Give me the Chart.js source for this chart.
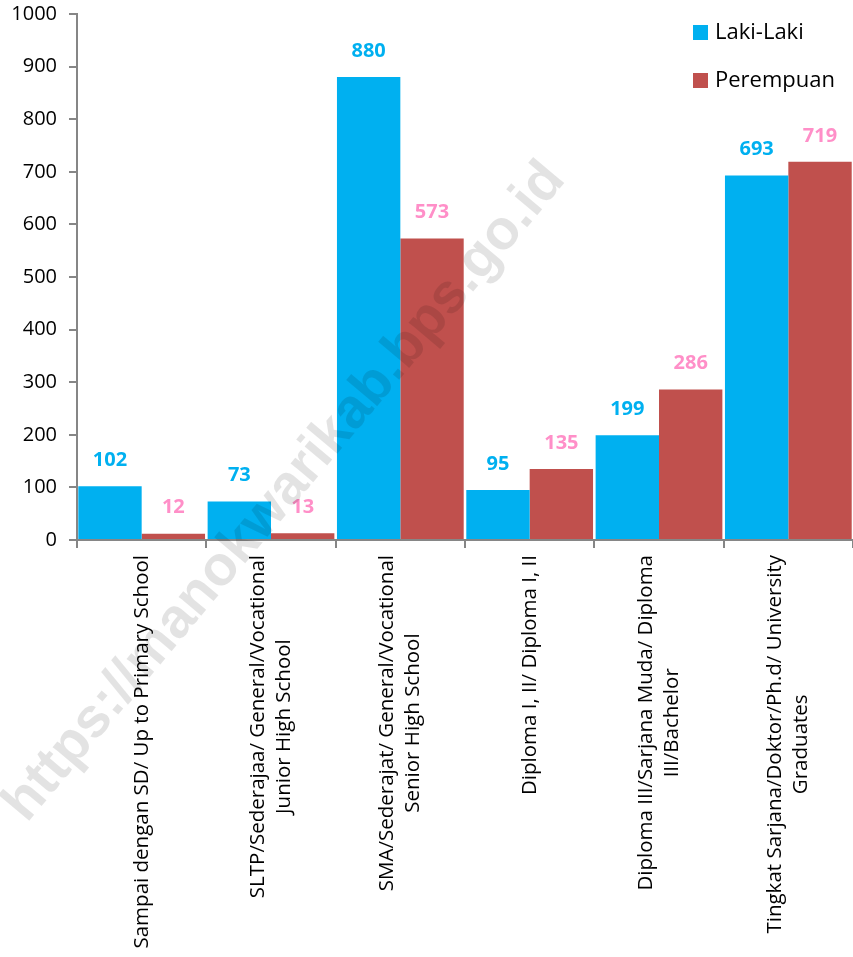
<!DOCTYPE html>
<html>
<head>
<meta charset="utf-8">
<script src="https://cdn.jsdelivr.net/npm/chart.js@4.4.0/dist/chart.umd.min.js"></script>
<style>
  html, body { margin: 0; padding: 0; background: #fff; }
  #wrap { width: 853px; height: 957px; position: relative; }
</style>
</head>
<body>
<div id="wrap"><canvas id="chart"></canvas></div>
<script>
// categories (each entry = lines of the rotated axis label)
var categories = [
  ['Sampai dengan SD/ Up to Primary School'],
  ['SLTP/Sederajaa/ General/Vocational', 'Junior High School'],
  ['SMA/Sederajat/ General/Vocational', 'Senior High School'],
  ['Diploma I, II/ Diploma I, II'],
  ['Diploma III/Sarjana Muda/ Diploma', 'III/Bachelor'],
  ['Tingkat Sarjana/Doktor/Ph.d/ University', 'Graduates']
];
var seriesNames = ['Laki-Laki', 'Perempuan'];
var lakiLaki = [102, 73, 880, 95, 199, 693];
var perempuan = [12, 13, 573, 135, 286, 719];
var yTicks = [0, 100, 200, 300, 400, 500, 600, 700, 800, 900, 1000];

var FONT = '"Open Sans", sans-serif';
var barColors = ['#00B0F0', '#C0504D'];
var labelColors = ['#00B0F0', '#FF8FC8'];

// value labels above bars
var valueLabels = {
  id: 'valueLabels',
  afterDatasetsDraw: function(chart){
    var ctx = chart.ctx;
    ctx.save();
    ctx.font = 'bold 20px ' + FONT;
    ctx.textAlign = 'center';
    ctx.textBaseline = 'middle';
    chart.data.datasets.forEach(function(ds, di){
      var meta = chart.getDatasetMeta(di);
      ctx.fillStyle = labelColors[di];
      meta.data.forEach(function(bar, i){
        ctx.fillText(String(ds.data[i]), bar.x, bar.y - 26);
      });
    });
    ctx.restore();
  }
};

// rotated category labels, lines centred on each other
var catLabels = {
  id: 'catLabels',
  afterDraw: function(chart){
    var ctx = chart.ctx, xs = chart.scales.x;
    var top = xs.top + 15, lineH = 26;
    ctx.save();
    ctx.font = '20.5px ' + FONT;
    ctx.fillStyle = '#000';
    ctx.textAlign = 'center';
    ctx.textBaseline = 'middle';
    categories.forEach(function(lines, i){
      var cx = xs.getPixelForValue(i);
      var w = 0;
      lines.forEach(function(l){ w = Math.max(w, ctx.measureText(l).width); });
      var cy = top + w / 2;
      lines.forEach(function(l, k){
        var x = cx + (k - (lines.length - 1) / 2) * lineH;
        ctx.save();
        ctx.translate(x, cy);
        ctx.rotate(-Math.PI / 2);
        ctx.fillText(l, 0, 0);
        ctx.restore();
      });
    });
    ctx.restore();
  }
};

// legend, top right inside plot
var sideLegend = {
  id: 'sideLegend',
  afterDraw: function(chart){
    var ctx = chart.ctx;
    ctx.save();
    ctx.font = '22px ' + FONT;
    ctx.textBaseline = 'middle';
    ctx.textAlign = 'left';
    chart.data.datasets.forEach(function(ds, di){
      var y = 33 + di * 48;
      ctx.fillStyle = ds.backgroundColor;
      ctx.fillRect(693, y - 8, 15, 15);
      ctx.fillStyle = '#000';
      ctx.fillText(ds.label, 715, y);
    });
    ctx.restore();
  }
};

// faint source watermark
var watermark = {
  id: 'watermark',
  afterDraw: function(chart){
    var ctx = chart.ctx;
    ctx.save();
    ctx.translate(285, 492);
    ctx.rotate(-50 * Math.PI / 180);
    ctx.font = 'bold 56px "Liberation Sans", Arial, sans-serif';
    ctx.fillStyle = 'rgba(0,0,0,0.11)';
    ctx.textAlign = 'center';
    ctx.textBaseline = 'middle';
    ctx.fillText('https://manokwarikab.bps.go.id', 0, 0);
    ctx.restore();
  }
};

new Chart(document.getElementById('chart'), {
  type: 'bar',
  data: {
    labels: categories.map(function(c){ return c.join(' '); }),
    datasets: [
      { label: seriesNames[0], data: lakiLaki, backgroundColor: barColors[0] },
      { label: seriesNames[1], data: perempuan, backgroundColor: barColors[1] }
    ]
  },
  options: {
    responsive: true,
    maintainAspectRatio: false,
    animation: false,
    layout: { padding: { top: 14, left: 0, right: 0, bottom: 0 } },
    datasets: { bar: { categoryPercentage: 0.98, barPercentage: 1 } },
    plugins: { legend: { display: false }, tooltip: { enabled: false } },
    scales: {
      x: {
        ticks: { display: false },
        grid: { drawOnChartArea: false, drawTicks: true, tickLength: 8, color: '#868686', lineWidth: 2 },
        border: { color: '#868686', width: 2 },
        afterFit: function(s){ s.height = 417; s.paddingLeft = 0; s.paddingRight = 0; }
      },
      y: {
        min: 0, max: 1000,
        afterBuildTicks: function(s){ s.ticks = yTicks.map(function(v){ return { value: v }; }); },
        ticks: { color: '#000', font: { family: FONT, size: 20 }, padding: 12,
                 callback: function(v){ return String(v); } },
        grid: { drawOnChartArea: false, drawTicks: true, tickLength: 8, color: '#868686', lineWidth: 2 },
        border: { color: '#868686', width: 2 },
        afterFit: function(s){ s.width = 77; s.paddingTop = 0; s.paddingBottom = 0; }
      }
    }
  },
  plugins: [valueLabels, catLabels, sideLegend, watermark]
});
</script>
</body>
</html>
